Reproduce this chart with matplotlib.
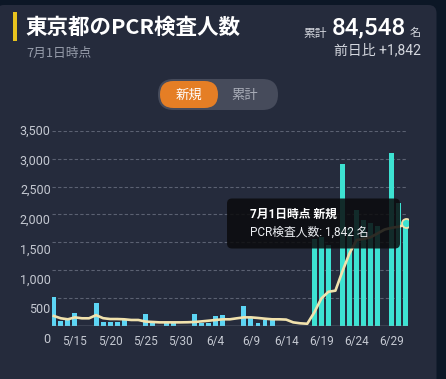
import matplotlib.pyplot as plt
from matplotlib.patches import FancyBboxPatch, Rectangle
from matplotlib.transforms import ScaledTranslation, blended_transform_factory

# ---------------- data ----------------
days = ['5/12', '5/13', '5/14', '5/15', '5/16', '5/17', '5/18', '5/19', '5/20', '5/21',
        '5/22', '5/23', '5/24', '5/25', '5/26', '5/27', '5/28', '5/29', '5/30', '5/31',
        '6/1', '6/2', '6/3', '6/4', '6/5', '6/6', '6/7', '6/8', '6/9', '6/10',
        '6/11', '6/12', '6/13', '6/14', '6/15', '6/16', '6/17', '6/18', '6/19', '6/20',
        '6/21', '6/22', '6/23', '6/24', '6/25', '6/26', '6/27', '6/28', '6/29', '6/30',
        '7/1']
new_tests = [520, 80, 100, 220, 0, 0, 400, 75, 60, 60,
             100, 0, 0, 205, 60, 0, 50, 50, 0, 0,
             210, 40, 50, 175, 190, 0, 0, 355, 130, 40,
             100, 100, 0, 0, 0, 0, 0, 1550, 1600, 1450,
             0, 2910, 1750, 2080, 1900, 1850, 1800, 0, 3110, 2200,
             1842]
avg_line = [175, 133, 115, 150, 133, 133, 190, 135, 120, 120,
            115, 103, 103, 75, 67, 60, 60, 60, 60, 62,
            67, 78, 90, 103, 115, 115, 133, 150, 150, 139,
            126, 115, 115, 110, 60, 43, 35, 240, 490, 610,
            630, 980, 1300, 1540, 1560, 1590, 1660, 1730, 1760, 1780,
            1820]
x_tick_labels = ['5/15', '5/20', '5/25', '5/30', '6/4', '6/9', '6/14', '6/19', '6/24', '6/29']
y_ticks = [0, 500, 1000, 1500, 2000, 2500, 3000, 3500]

title = '東京都のPCR検査人数'
subtitle = '7月1日時点'
total = '84,548'
diff = '前日比 +1,842'
tip_title = '7月1日時点 新規'
tip_body = 'PCR検査人数: 1,842 名'

# ---------------- style ----------------
JP = ['Noto Sans CJK JP', 'DejaVu Sans']
NUM = ['Roboto', 'Noto Sans CJK JP', 'DejaVu Sans']
plt.rcParams['font.family'] = JP

OUTER = '#0c1726'
CARD = '#252b3c'
LABEL = '#c5c9d2'
BAR_OLD = '#5cd5f4'
BAR_NEW = '#3de2d2'
LINE = '#f1e2ad'

W, H = 446, 379
fig = plt.figure(figsize=(W / 100, H / 100), dpi=100)
fig.patch.set_facecolor(OUTER)

# background layer in pixel coordinates
bg = fig.add_axes([0, 0, 1, 1])
bg.set_xlim(0, W)
bg.set_ylim(H, 0)
bg.axis('off')
bg.add_patch(FancyBboxPatch((-4, 5), 440.5, 400, boxstyle='round,pad=0,rounding_size=8',
                            fc=CARD, ec='none'))
bg.add_patch(Rectangle((13, 12), 3.5, 28.5, fc='#e8c31e', ec='none'))
bg.text(25, 27, title, color='white', fontsize=15.5, fontweight='bold', va='center', ha='left')
bg.text(26, 53, subtitle, color='#979dab', fontsize=9.2, va='center', ha='left')

bg.text(332, 28, total, color='white', fontsize=17.5, fontweight='medium', family=NUM,
        va='center', ha='left')
bg.text(327, 33, '累計', color='#d4d7de', fontsize=8.5, va='center', ha='right')
bg.text(410, 33, '名', color='#d4d7de', fontsize=8, va='center', ha='left')
bg.text(421, 50, diff, color='#d4d7de', fontsize=10, family=NUM, va='center', ha='right')

# toggle
bg.add_patch(FancyBboxPatch((158, 79), 120, 31, boxstyle='round,pad=0,rounding_size=15.5',
                            fc='#464b5b', ec='none'))
bg.add_patch(FancyBboxPatch((160, 81), 58, 27, boxstyle='round,pad=0,rounding_size=13.5',
                            fc='#e57e25', ec='none'))
bg.text(189, 95, '新規', color='white', fontsize=9.6, va='center', ha='center')
bg.text(245, 95, '累計', color='#a9adb8', fontsize=9.6, va='center', ha='center')

# ---------------- chart ----------------
left, right, top, bottom = 51.7, 408.3, 131, 325.7
ax = fig.add_axes([left / W, 1 - bottom / H, (right - left) / W, (bottom - top) / H])
ax.set_facecolor('none')

x = list(range(len(days)))
colors = [BAR_OLD if i < 37 else BAR_NEW for i in x]
ax.bar(x, new_tests, width=0.7, color=colors, zorder=2)
ax.plot(x, avg_line, color=LINE, lw=1.9, solid_joinstyle='round', zorder=3)

ax.set_xlim(-0.3, 50.35)
ax.set_ylim(0, 3500)
for v in y_ticks[1:]:
    ax.axhline(v, color='#5b6172', lw=0.8, ls=(0, (3, 2)), zorder=1)
ax.axhline(0, color='#9a9fab', lw=1.0, zorder=2.5)

for s in ax.spines.values():
    s.set_visible(False)

ax.set_xticks([days.index(d) for d in x_tick_labels])
ax.set_xticklabels(x_tick_labels, family=NUM, fontsize=8.5, color=LABEL)
ax.tick_params(axis='x', length=0, pad=7)
ax.set_yticks([])

# y labels drift downwards slightly in the reference
ytrans = blended_transform_factory(ax.transAxes, ax.transData)
for v in y_ticks:
    shift = (3500 - v) / 3500 * 14
    tr = ytrans + ScaledTranslation(-1 / 100, -shift / 100, fig.dpi_scale_trans)
    ax.text(0, v, f'{v:,}', transform=tr, family=NUM, fontsize=9, color=LABEL,
            ha='right', va='center')

# hover point and tooltip
ax.plot(x[-1], new_tests[-1], 'o', ms=6.5, mfc=BAR_NEW, mec=LINE, mew=1.3, zorder=5)
ax.add_patch(FancyBboxPatch((227, 198.5), 173, 50, boxstyle='round,pad=0,rounding_size=5',
                            fc='#0b0b0d', ec='none', alpha=0.85, transform=bg.transData,
                            clip_on=False, zorder=10))
ax.text(250, 214.5, tip_title, transform=bg.transData, color='white', fontsize=8.5,
        fontweight='bold', family=NUM, va='center', ha='left', zorder=11)
ax.text(250, 232, tip_body, transform=bg.transData, color='#eceef2', fontsize=8.5,
        family=NUM, va='center', ha='left', zorder=11)

fig.savefig('out.png', dpi=100, facecolor=fig.get_facecolor())
